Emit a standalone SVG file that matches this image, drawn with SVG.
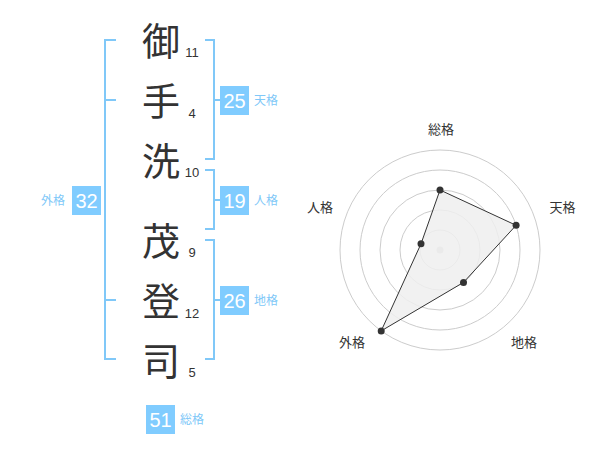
<svg xmlns="http://www.w3.org/2000/svg" width="600" height="470" viewBox="0 0 600 470">
<style>
.ch{font-family:"Noto Sans CJK JP","Noto Sans CJK SC",sans-serif;font-size:38px;fill:#333;text-anchor:middle}
.st{font-family:"Liberation Sans",Arial,sans-serif;font-size:13px;fill:#333;text-anchor:middle}
.br{fill:none;stroke:#80c8f8;stroke-width:2}
.box{fill:#80ccff}
.num{font-family:"Liberation Sans",Arial,sans-serif;font-size:20px;fill:#fff;text-anchor:middle}
.lb{font-family:"Noto Sans CJK JP",sans-serif;font-size:12px;fill:#80c8f8}
.ring{fill:none;stroke:#ccc;stroke-width:1}
.rl{font-family:"Noto Sans CJK JP",sans-serif;font-size:13px;fill:#333;text-anchor:middle}
.pt{fill:#333}
</style>
<rect width="600" height="470" fill="#fff"/>
<g id="chars">
<text class="ch" x="161" y="55">御</text>
<text class="ch" x="161" y="115">手</text>
<text class="ch" x="161" y="175">洗</text>
<text class="ch" x="161" y="255">茂</text>
<text class="ch" x="161" y="315">登</text>
<text class="ch" x="161" y="375">司</text>
<text class="st" x="192" y="57">11</text>
<text class="st" x="192" y="118">4</text>
<text class="st" x="192" y="177">10</text>
<text class="st" x="192" y="257">9</text>
<text class="st" x="192" y="318">12</text>
<text class="st" x="192" y="377">5</text>
</g>
<g id="connectors">
<path class="br" d="M116,40 H105 V359 H116 M105,100 H116 M105,300 H116"/>
<path class="br" d="M205,40 H214 V159 H205 M214,100 H220"/>
<path class="br" d="M205,170 H214 V229 H205 M214,200 H220"/>
<path class="br" d="M205,240 H214 V359 H205 M214,300 H220"/>
</g>
<g id="gaikaku">
<rect class="box" x="72" y="186" width="29" height="29"/>
<text class="num" x="86.5" y="208">32</text>
<text class="lb" x="41" y="205">外格</text>
</g>
<g id="tenkaku">
<rect class="box" x="220" y="86" width="29" height="29"/>
<text class="num" x="234.5" y="108">25</text>
<text class="lb" x="254" y="105">天格</text>
</g>
<g id="jinkaku">
<rect class="box" x="220" y="186" width="29" height="29"/>
<text class="num" x="234.5" y="208">19</text>
<text class="lb" x="254" y="205">人格</text>
</g>
<g id="chikaku">
<rect class="box" x="220" y="286" width="29" height="29"/>
<text class="num" x="234.5" y="308">26</text>
<text class="lb" x="254" y="305">地格</text>
</g>
<g id="soukaku">
<rect class="box" x="146" y="405" width="29" height="29"/>
<text class="num" x="160.5" y="427">51</text>
<text class="lb" x="180" y="424">総格</text>
</g>
<g id="radar">
<circle class="ring" cx="440" cy="250" r="20"/>
<circle class="ring" cx="440" cy="250" r="40"/>
<circle class="ring" cx="440" cy="250" r="60"/>
<circle class="ring" cx="440" cy="250" r="80"/>
<circle class="ring" cx="440" cy="250" r="100"/>
<circle cx="440" cy="250" r="3.5" fill="#ccc"/>
<polygon points="440,190 516.1,225.3 463.5,282.4 381.2,330.9 421,243.8" fill="#eee" fill-opacity="0.85" stroke="#333" stroke-width="1"/>
<circle class="pt" cx="440" cy="190" r="3.5"/>
<circle class="pt" cx="516.1" cy="225.3" r="3.5"/>
<circle class="pt" cx="463.5" cy="282.4" r="3.5"/>
<circle class="pt" cx="381.2" cy="330.9" r="3.5"/>
<circle class="pt" cx="421" cy="243.8" r="3.5"/>
<text class="rl" x="441" y="134">総格</text>
<text class="rl" x="562.5" y="212">天格</text>
<text class="rl" x="524" y="347">地格</text>
<text class="rl" x="352" y="347">外格</text>
<text class="rl" x="320" y="212">人格</text>
</g>
</svg>
